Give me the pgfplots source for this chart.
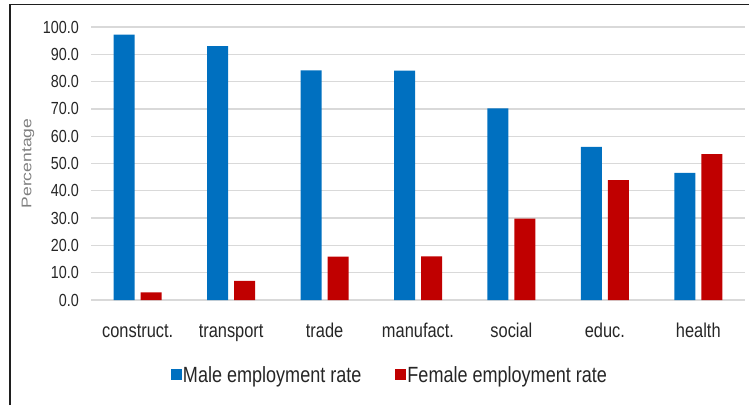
\documentclass[border=0pt]{standalone}
\usepackage{fontspec}
\setmainfont{Liberation Sans}[FakeStretch=0.82]
\newfontfamily\labfont{Liberation Sans}[FakeStretch=1.25]
\usepackage{pgfplots}
\pgfplotsset{compat=1.18}
\definecolor{maleblue}{HTML}{0070C0}
\definecolor{femred}{HTML}{C00000}
\definecolor{gridgray}{HTML}{D9D9D9}
\definecolor{ticktext}{HTML}{262626}
\definecolor{labgray}{HTML}{7F7F7F}
\begin{document}
\begin{tikzpicture}
\path[use as bounding box] (0,0) rectangle (749pt,405pt);
\draw[line width=1.4pt, color=black!88] (10pt,0pt) -- (10pt,400.5pt) -- (749pt,400.5pt);
\begin{axis}[
  at={(91pt,105pt)}, anchor=south west,
  scale only axis, width=654pt, height=273pt,
  xmin=-0.5, xmax=6.5, ymin=0, ymax=100,
  ybar=6pt, bar width=21pt,
  axis line style={draw=none},
  major tick length=0pt,
  ymajorgrids, grid style={gridgray, line width=1.3pt},
  ytick={0,10,...,100},
  xtick={0,...,6},
  xticklabels={construct.,transport,trade,manufact.,social,educ.,health},
  /pgf/number format/assume math mode=true,
  y tick label style={/pgf/number format/fixed, /pgf/number format/fixed zerofill, /pgf/number format/precision=1,
    font=\fontsize{17.5}{20}\selectfont, color=ticktext, anchor=east, inner sep=0pt, xshift=-12pt},
  x tick label style={font=\fontsize{20}{24}\selectfont, color=ticktext, anchor=base, inner sep=0pt, yshift=-37pt},
  ylabel={Percentage},
  every axis y label/.style={at={(axis description cs:-0.0963,0.5)}, rotate=90, anchor=center, font=\labfont\fontsize{14}{16}\selectfont, color=labgray},
  legend columns=2,
  legend style={at={(axis description cs:0.4564,-0.2747)}, anchor=center, draw=none, fill=none,
    font=\fontsize{22}{24}\selectfont, text=ticktext,
    nodes={inner sep=1pt},
    /tikz/every even column/.append style={column sep=33pt}},
  legend image code/.code={\fill[#1] (0pt,-5.5pt) rectangle (11pt,5.5pt);},
]
\addplot[fill=maleblue, draw=none] coordinates {(0,97.2) (1,93.0) (2,84.1) (3,84.0) (4,70.2) (5,56.1) (6,46.6)};
\addplot[fill=femred, draw=none] coordinates {(0,2.8) (1,7.0) (2,15.9) (3,16.0) (4,29.8) (5,43.9) (6,53.4)};
\legend{Male employment rate, Female employment rate}
\end{axis}
\end{tikzpicture}
\end{document}
